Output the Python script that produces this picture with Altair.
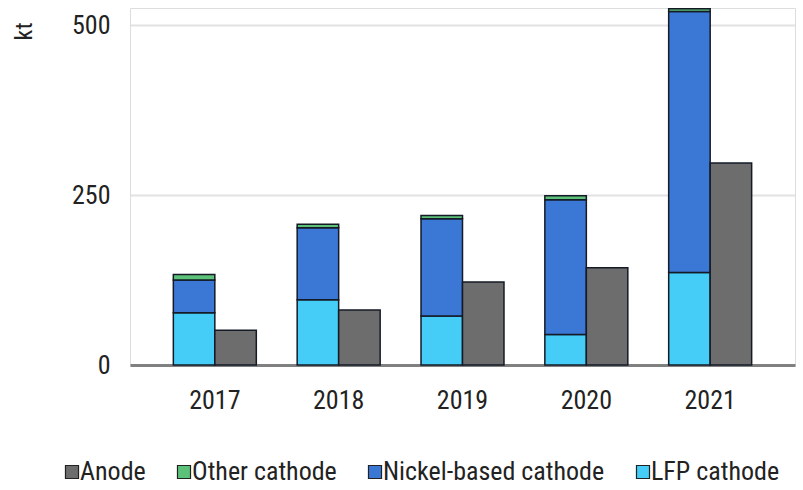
import altair as alt
import pandas as pd

years = ["2017", "2018", "2019", "2020", "2021"]
lfp_cathode = [77, 96, 72, 45, 136]
nickel_cathode = [48, 106, 143, 198, 384]
other_cathode = [8, 5, 5, 6, 4]
anode = [51, 81, 122, 143, 297]

series_names = ["Anode", "Other cathode", "Nickel-based cathode", "LFP cathode"]
series_colors = ["#6d6d6d", "#5cc27a", "#3b78d6", "#45cdf7"]

rows = []
for i, y in enumerate(years):
    rows.append({"year": y, "group": "Cathode", "material": "LFP cathode", "order": 0, "value": lfp_cathode[i]})
    rows.append({"year": y, "group": "Cathode", "material": "Nickel-based cathode", "order": 1, "value": nickel_cathode[i]})
    rows.append({"year": y, "group": "Cathode", "material": "Other cathode", "order": 2, "value": other_cathode[i]})
    rows.append({"year": y, "group": "Anode", "material": "Anode", "order": 0, "value": anode[i]})
df = pd.DataFrame(rows)

FONT = "Liberation Sans Narrow, Arial Narrow, Roboto Condensed, Liberation Sans, Arial, sans-serif"

chart = alt.Chart(df).mark_bar(stroke="#141a26", strokeWidth=1.5).encode(
    x=alt.X("year:N", sort=years,
            scale=alt.Scale(paddingInner=0.33, paddingOuter=0.35),
            axis=alt.Axis(title=None, labelAngle=0, ticks=False, domainColor="#808080",
                          domainWidth=3, labelFontSize=26, labelColor="#222222",
                          labelPadding=22, labelFont=FONT)),
    xOffset=alt.XOffset("group:N", sort=["Cathode", "Anode"]),
    y=alt.Y("value:Q", stack="zero",
            scale=alt.Scale(domain=[0, 525], nice=False),
            axis=alt.Axis(values=[0, 250, 500], title="kt", domain=False, ticks=False,
                          grid=True, gridColor="#e2e2e2", gridWidth=2,
                          labelFontSize=26, labelColor="#222222", labelPadding=20,
                          labelFont=FONT, titleFont=FONT, titleFontSize=24,
                          titleFontWeight="normal", titleColor="#222222",
                          titleAngle=270, titleAlign="right", titleBaseline="middle",
                          titleX=-106, titleY=14)),
    color=alt.Color("material:N",
                    scale=alt.Scale(domain=series_names, range=series_colors),
                    legend=alt.Legend(title=None, orient="none", direction="horizontal",
                                      legendX=-71, legendY=451,
                                      symbolType="square", symbolSize=170,
                                      symbolStrokeColor="#222222", symbolStrokeWidth=1.2,
                                      labelFontSize=26, labelFont=FONT, labelColor="#222222",
                                      labelOffset={"expr": "-5"}, columnPadding=25,
                                      labelLimit=400)),
    order=alt.Order("order:Q", sort="ascending"),
).properties(
    width=665, height=357,
    padding={"left": 130, "top": 8, "right": 8, "bottom": 125},
    autosize=alt.AutoSizeParams(type="none"),
).configure_view(stroke=None).configure(font=FONT)

chart.save("out.html", embed_options={"renderer": "svg", "actions": False})
